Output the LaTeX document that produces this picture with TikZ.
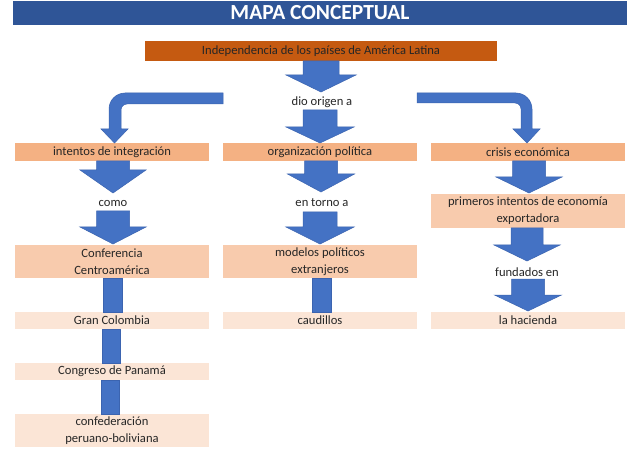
\documentclass[tikz,border=0pt]{standalone}
\usepackage{fontspec}
\setmainfont{Carlito}
\definecolor{titleblue}{HTML}{2F5597}
\definecolor{topor}{HTML}{C55A11}
\definecolor{rowone}{HTML}{F4B183}
\definecolor{rowmid}{HTML}{F8CBAD}
\definecolor{rowlight}{HTML}{FBE5D6}
\definecolor{arrblue}{HTML}{4472C4}
\definecolor{arredge}{HTML}{3B64B0}
\definecolor{txt}{HTML}{262626}
\newcommand\blkarrow[6]{\path[blk] (#1-#5,#2) -- (#1+#5,#2) -- (#1+#5,#3) -- (#1+#6,#3) -- (#1,#4) -- (#1-#6,#3) -- (#1-#5,#3) -- cycle;}
\newcommand\blkbar[4]{\path[blk] (#1,#3) rectangle (#2,#4);}
\begin{document}
\begin{tikzpicture}[x=1pt,y=-1pt,
  blk/.style={fill=arrblue,draw=arredge,line width=0.5pt},
  cbox/.style={inner sep=0pt,minimum width=194pt,text=txt,align=center,font=\fontsize{12.6}{17}\selectfont},
  lbl/.style={inner sep=0pt,text=txt,font=\fontsize{12.6}{14}\selectfont}]
\useasboundingbox (0,0) rectangle (640,465);
\fill[white] (0,0) rectangle (640,465);
% title
\node[fill=titleblue,minimum width=614pt,minimum height=24pt,inner sep=0pt,text=white,font=\fontsize{21.5}{23}\selectfont\bfseries] (title) at (320,13) {MAPA CONCEPTUAL};
% top
\node[fill=topor,minimum width=352pt,minimum height=20pt,inner sep=0pt,text=txt,font=\fontsize{12.6}{14}\selectfont] (top) at (321,51) {Independencia de los países de América Latina};
% row 1
\node[cbox,fill=rowone,minimum height=18pt] (integ) at (112,152) {intentos de integración};
\node[cbox,fill=rowone,minimum height=18pt] (org) at (320,152) {organización política};
\node[cbox,fill=rowone,minimum height=18pt] (crisis) at (528,152) {crisis económica};
% labels
\node[lbl] (dio) at (322,102) {dio origen a};
\node[lbl] (como) at (113,203) {como};
\node[lbl] (torno) at (322,203) {en torno a};
\node[lbl] (fund) at (527,272) {fundados en};
% mid boxes
\node[cbox,fill=rowmid,minimum height=33pt] (conf) at (112,261.5) {Conferencia\\Centroamérica};
\node[cbox,fill=rowmid,minimum height=33pt] (mod) at (320,261.5) {modelos políticos\\extranjeros};
\node[cbox,fill=rowmid,minimum height=34pt] (prim) at (528,211) {primeros intentos de economía\\exportadora};
% light boxes
\node[cbox,fill=rowlight,minimum height=17pt] (gran) at (112,320.5) {Gran Colombia};
\node[cbox,fill=rowlight,minimum height=17pt] (caud) at (320,320.5) {caudillos};
\node[cbox,fill=rowlight,minimum height=17pt] (hac) at (528,320.5) {la hacienda};
\node[cbox,fill=rowlight,minimum height=17pt] (cong) at (112,371.5) {Congreso de Panamá};
\node[cbox,fill=rowlight,minimum height=33pt] (confed) at (112,430.5) {confederación\\peruano-boliviana};
% block arrows
\blkarrow{321}{61}{75}{92}{18}{35}
\blkarrow{320}{110}{127}{143}{17}{34}
\blkarrow{113}{161}{170}{193}{16.5}{33}
\blkarrow{113}{211}{227}{244}{16.5}{33}
\blkarrow{321}{161}{174}{192}{16.5}{33.5}
\blkarrow{320}{212}{227}{244}{17}{34}
\blkarrow{529}{161}{177}{193}{16.5}{33}
\blkarrow{527}{228}{245}{261}{16}{33}
\blkarrow{528}{279}{295}{311}{16.5}{33.5}
% bars
\blkbar{103}{122}{278}{312}
\blkbar{102}{120}{329}{363}
\blkbar{101}{119}{380}{414}
\blkbar{312}{331}{278}{312}
% bent arrows
\path[blk] (223,93) -- (125,93) .. controls (116.2,93) and (109,100.2) .. (109,109) -- (109,129) -- (101,129) -- (114.5,143) -- (128,129) -- (121,129) -- (121,110) .. controls (121,106.7) and (123.7,104) .. (127,104) -- (223,104) -- cycle;
\path[blk] (417,93) -- (516,93) .. controls (524.8,93) and (532,100.2) .. (532,109) -- (532,129) -- (540,129) -- (527,143) -- (513,129) -- (521,129) -- (521,109) .. controls (521,105.7) and (518.3,103) .. (515,103) -- (417,103) -- cycle;
\end{tikzpicture}
\end{document}
